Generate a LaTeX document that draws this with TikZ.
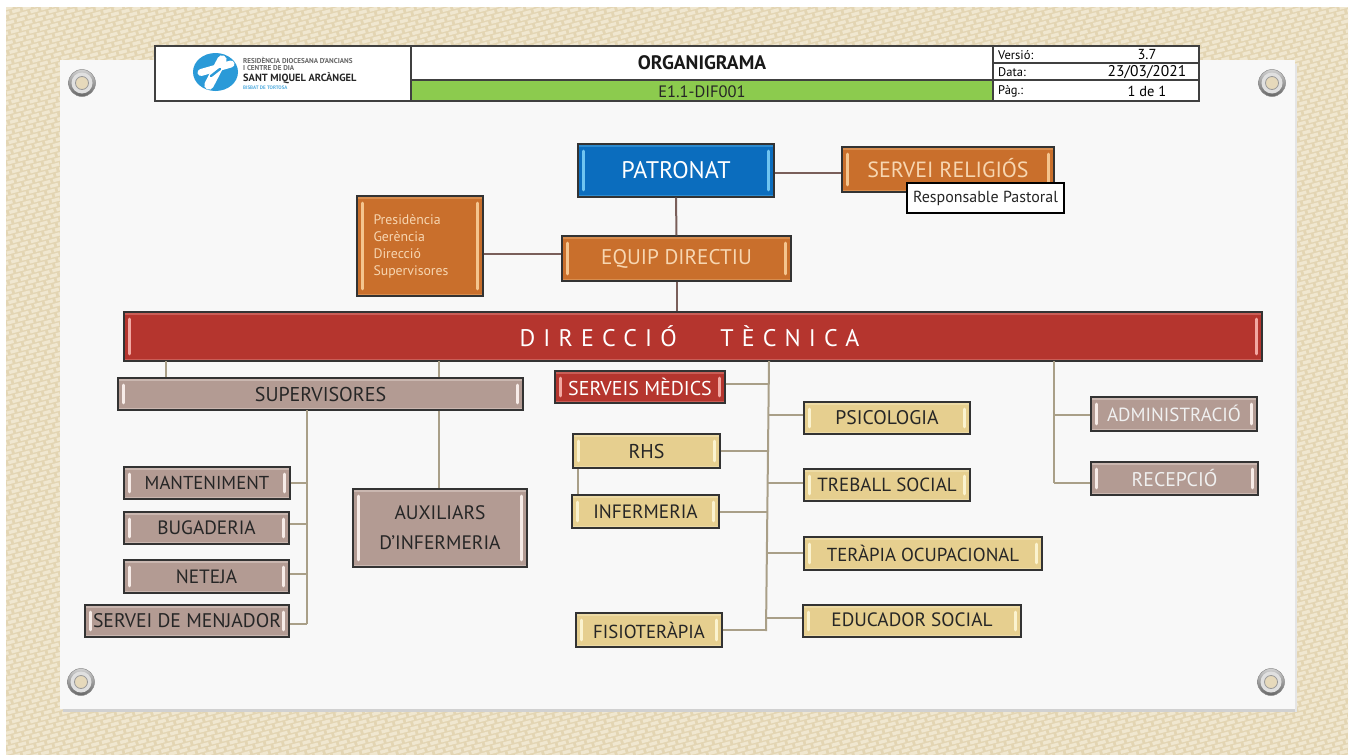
\documentclass[tikz,border=0pt]{standalone}
\usepackage{fontspec}
\setmainfont{PT Sans}
\usetikzlibrary{calc}
\definecolor{burlap}{HTML}{E3D5B3}
\definecolor{burlapL}{HTML}{F0E7D0}
\definecolor{sheet}{HTML}{F8F8F8}
\definecolor{cBlue}{HTML}{0B6DBE}
\definecolor{cBlueL}{HTML}{6FC4F0}
\definecolor{cOrange}{HTML}{C96F2C}
\definecolor{cOrangeL}{HTML}{F4C58F}
\definecolor{cRed}{HTML}{B5352E}
\definecolor{cRedL}{HTML}{F2A8A2}
\definecolor{cTaupe}{HTML}{B39B93}
\definecolor{cTaupeL}{HTML}{F7ECE8}
\definecolor{cSand}{HTML}{E6CF8F}
\definecolor{cSandL}{HTML}{FBF3CF}
\definecolor{lineDark}{HTML}{7A5F5A}
\definecolor{lineTan}{HTML}{A99F88}
\definecolor{edge}{HTML}{333333}
\definecolor{logoBlue}{HTML}{2A9AD8}
\definecolor{headGreen}{HTML}{8CCB4E}
\newcommand{\fsz}[1]{\fontsize{#1}{#1}\selectfont}
\tikzset{
  x=1pt,y=-1pt,
  bevel/.style n args={3}{
    draw=edge,line width=1.2pt,fill=#1,text=#3,inner sep=0pt,align=center,
    path picture={
      \coordinate (bbSW) at (path picture bounding box.south west);
      \coordinate (bbNE) at (path picture bounding box.north east);
      \fill[#2,opacity=.35] (bbSW) rectangle ($(bbNE |- bbSW)+(0,-2.5)$);
      \fill[#2,opacity=.35] (bbNE) rectangle ($(bbSW |- bbNE)+(0,2.5)$);
      \draw[#2,line width=2.8pt,line cap=round] ($(bbSW)+(5.5,-7)$) -- ($(bbSW |- bbNE)+(5.5,7)$);
      \draw[#2,line width=2.8pt,line cap=round] ($(bbNE)+(-5.5,7)$) -- ($(bbNE |- bbSW)+(-5.5,-7)$);
    }},
  boxsize/.style 2 args={minimum width=#1,minimum height=#2},
  blueBox/.style={bevel={cBlue}{cBlueL}{white},font=\fsz{24}},
  orangeBox/.style={bevel={cOrange}{cOrangeL}{cOrangeL!70!white},font=\fsz{21.5}},
  redBox/.style={bevel={cRed}{cRedL}{white},font=\fsz{20}},
  taupeBox/.style={bevel={cTaupe}{cTaupeL}{black!85},font=\fsz{19.3}},
  taupeLight/.style={bevel={cTaupe}{cTaupeL}{white!94!black},font=\fsz{19.3}},
  sandBox/.style={bevel={cSand}{cSandL}{black!85},font=\fsz{19.3}},
  linkDark/.style={draw=lineDark,line width=2pt},
  linkTan/.style={draw=lineTan,line width=2pt},
  gridLine/.style={draw=black!75,line width=1.2pt},
  headLabel/.style={anchor=west,inner sep=0pt,font=\fsz{12.5}},
  headValue/.style={inner sep=0pt,font=\fsz{14.5}},
  logoText/.style={anchor=base west,inner sep=0pt},
  grommet/.style={circle,minimum size=27pt,inner sep=0pt,top color=black!18,bottom color=black!60,draw=black!45,line width=.5pt},
  grommetRing/.style={circle,minimum size=21pt,inner sep=0pt,fill=black!12},
  grommetHole/.style={circle,minimum size=13pt,inner sep=0pt,fill=burlap!90!white,draw=black!40,line width=.8pt},
}
\begin{document}
\begin{tikzpicture}
\useasboundingbox (0,0) rectangle (1355,755);
\fill[white] (0,0) rectangle (1355,755);
% canvas background
\begin{scope}
\clip (6,7) rectangle (1348,755);
\fill[burlap] (6,7) rectangle (1348,755);
\foreach \r in {5,10,...,1130}{
  \pgfmathsetmacro\ph{mod(\r*0.62,11)}
  \draw[burlapL,line width=3.3pt,dash pattern=on 8pt off 3pt,dash phase=\ph pt] (0,\r) -- (1355,\r-366);
}
\end{scope}
% sheet
\fill[black!18] (63,709) rectangle (1297,712);
\fill[black!10] (1295,64) rectangle (1297,712);
\fill[sheet] (60,60) rectangle (1295,709);
% grommets
\foreach \gn/\gx/\gy in {g1/82/83,g2/1272/83,g3/81/682,g4/1271/682}{
  \node[grommet] (\gn) at (\gx,\gy) {};
  \node[grommetRing] at (\gn) {};
  \node[grommetHole] at (\gn) {};
}
% header
\fill[white] (155,46) rectangle (1199,101);
\fill[headGreen] (411,80) rectangle (993,101);
\draw[gridLine] (155,46) rectangle (1199,101);
\draw[gridLine] (411,46) -- (411,101);
\draw[gridLine] (993,46) -- (993,101);
\draw[gridLine] (411,80) -- (1199,80);
\draw[gridLine] (993,63) -- (1199,63);
\node[font=\fsz{19.5}\bfseries,text=black!90] (hTitle) at (702,63) {ORGANIGRAMA};
\node[font=\fsz{16.5},text=black!85] (hCode) at (702,92) {E1.1-DIF001};
\node[headLabel] (hV) at (998,55) {Versió:};
\node[headLabel] (hD) at (998,72) {Data:};
\node[headLabel] (hP) at (998,91) {Pàg.:};
\node[headValue] (hV2) at (1147,55) {3.7};
\node[font=\fsz{15.5},inner sep=0pt] (hD2) at (1147,72) {23/03/2021};
\node[headValue] (hP2) at (1147,91) {1 de 1};
% logo
\fill[logoBlue] (215.5,72) ellipse (22.5 and 19);
\draw[white,line width=7pt,line cap=round] (201,72.5) -- (231,64);
\draw[white,line width=9.5pt,line cap=round] (222,60) -- (209,85);
\draw[logoBlue,line width=2.4pt,line cap=round] (211,76) -- (220,69);
\node[logoText,text=black!60,font=\fsz{7.1}\bfseries] (l1) at (243,63.5) {RESIDÈNCIA DIOCESANA D'ANCIANS};
\node[logoText,text=black!60,font=\fsz{7.1}\bfseries] (l2) at (243,70.5) {I CENTRE DE DIA};
\node[logoText,text=black!85,font=\fsz{10.4}\bfseries] (l3) at (243,81) {SANT MIQUEL ARCÀNGEL};
\node[logoText,text=logoBlue!80,font=\fsz{5}\bfseries] (l4) at (243,89) {BISBAT DE TORTOSA};
% boxes
\node[blueBox,boxsize={196}{53}] (patronat) at (676,170.5) {PATRONAT};
\node[orangeBox,boxsize={212}{45},font=\fsz{22}] (religios) at (948,169.5) {\raisebox{3pt}{SERVEI RELIGIÓS}};
\node[draw=black,line width=1.2pt,fill=white,minimum width=157pt,minimum height=30pt,inner sep=0pt,font=\fsz{16},text=black!85] (pastoral) at (985.5,198) {Responsable Pastoral};
\node[bevel={cOrange}{cOrangeL}{cOrangeL!70!white},boxsize={126}{100},font=\fontsize{13.8}{17}\selectfont,align=left,text width=93pt] (presid) at (420,246) {Presidència\\Gerència\\Direcció\\Supervisores};
\node[orangeBox,boxsize={229}{45},font=\fsz{21.2}] (equip) at (676.5,258.5) {\raisebox{2pt}{EQUIP DIRECTIU}};
\node[redBox,boxsize={1138}{49},font=\fsz{24}] (tecnica) at (693,336.5) {\hspace*{-7pt}\raisebox{1pt}{\addfontfeature{LetterSpace=34}DIRECCIÓ\hspace{29pt} TÈCNICA}};
\node[taupeBox,boxsize={405}{32},font=\fsz{20}] (superv) at (320.5,394) {SUPERVISORES};
\node[taupeBox,boxsize={166}{32},font=\fsz{18.7}] (manten) at (207,483) {MANTENIMENT};
\node[taupeBox,boxsize={165}{32}] (bugad) at (206.5,528) {BUGADERIA};
\node[taupeBox,boxsize={165}{33}] (neteja) at (206.5,576.5) {NETEJA};
\node[taupeBox,boxsize={204}{32},font=\fsz{19.7}] (menjador) at (187,621) {SERVEI DE MENJADOR};
\node[taupeBox,boxsize={174}{78},font=\fontsize{19.5}{29}\selectfont] (auxil) at (440,528) {\raisebox{1pt}{AUXILIARS}\\D'INFERMERIA};
\node[redBox,boxsize={170}{32}] (medics) at (640,387) {SERVEIS MÈDICS};
\node[sandBox,boxsize={147}{34},font=\fsz{20}] (rhs) at (646.5,451) {RHS};
\node[sandBox,boxsize={147}{33}] (infer) at (645.5,511.5) {INFERMERIA};
\node[sandBox,boxsize={146}{34},font=\fsz{18.8}] (fisio) at (649,630) {FISIOTERÀPIA};
\node[sandBox,boxsize={166}{32},font=\fsz{19.7}] (psico) at (887,418) {\raisebox{1pt}{PSICOLOGIA}};
\node[sandBox,boxsize={166}{32},font=\fsz{19}] (treball) at (887,485) {TREBALL SOCIAL};
\node[sandBox,boxsize={238}{33},font=\fsz{18.8}] (terapia) at (923,553.5) {\raisebox{1pt}{TERÀPIA OCUPACIONAL}};
\node[sandBox,boxsize={218}{32}] (educ) at (912,621) {\raisebox{2pt}{EDUCADOR SOCIAL}};
\node[taupeLight,boxsize={166}{34},font=\fsz{19}] (admin) at (1174,414) {\raisebox{2pt}{ADMINISTRACIÓ}};
\node[taupeLight,boxsize={167}{33},font=\fsz{19.8}] (recep) at (1174.5,478.5) {\raisebox{2pt}{RECEPCIÓ}};
% trunk coordinates
\coordinate (tSup1) at (166,361);
\coordinate (tSup2) at (439,361);
\coordinate (tLeft) at (307,410);
\coordinate (tLeftEnd) at (307,624);
\coordinate (tMid) at (769,361);
\coordinate (tMidEnd) at (766,631);
\coordinate (tRight) at (1054,361);
\coordinate (tRightEnd) at (1054,483);
\coordinate (tRhs) at (578,451);
% dark connectors
\draw[linkDark] (patronat.south) -- (equip.north);
\draw[linkDark] (equip.south) -- (tecnica.north -| equip.south);
\draw[linkDark] (patronat.east |- 0,173) -- (religios.west |- 0,173);
\draw[linkDark] (presid.east |- 0,254) -- (equip.west |- 0,254);
% tan connectors
\draw[linkTan] (tSup1) -- (tSup1 |- superv.north);
\draw[linkTan] (tSup2) -- (tSup2 |- superv.north);
\draw[linkTan] (tSup2 |- superv.south) -- (tSup2 |- auxil.north);
\draw[linkTan] (tLeft) -- (tLeftEnd);
\draw[linkTan] (manten.east) -- (manten.east -| tLeft);
\draw[linkTan] (bugad.east |- 0,524) -- (tLeft |- 0,524);
\draw[linkTan] (neteja.east |- 0,574) -- (tLeft |- 0,574);
\draw[linkTan] (menjador.east |- tLeftEnd) -- (tLeftEnd);
\draw[linkTan] (tMid) -- (tMidEnd);
\draw[linkTan] (medics.east |- 0,384) -- (769,384);
\draw[linkTan] (rhs.east) -- (768,451);
\draw[linkTan] (infer.east |- 0,512) -- (767,512);
\draw[linkTan] (fisio.east |- 0,630) -- (766,630);
\draw[linkTan] (769,415) -- (psico.west |- 0,415);
\draw[linkTan] (768,483) -- (treball.west |- 0,483);
\draw[linkTan] (767,553) -- (terapia.west |- 0,553);
\draw[linkTan] (766,618) -- (educ.west |- 0,618);
\draw[linkTan] (tRhs |- rhs.south) -- (tRhs |- infer.north);
\draw[linkTan] (tRight) -- (tRightEnd);
\draw[linkTan] (1054,415) -- (admin.west |- 0,415);
\draw[linkTan] (tRightEnd) -- (recep.west |- tRightEnd);
\end{tikzpicture}
\end{document}
